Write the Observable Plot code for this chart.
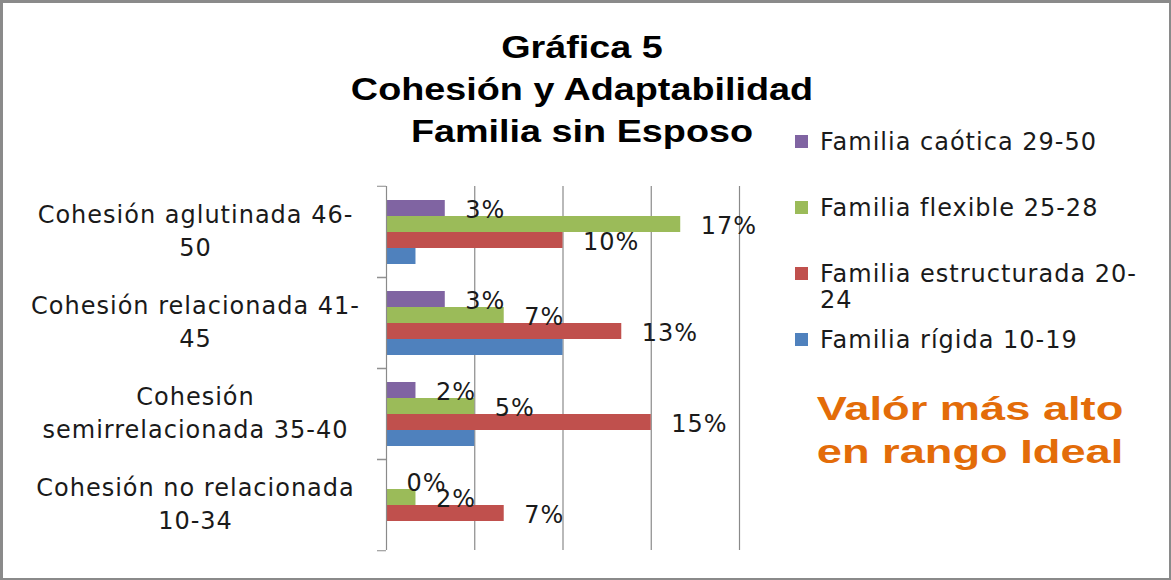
<!DOCTYPE html>
<html><head><meta charset="utf-8">
<script src="https://cdn.jsdelivr.net/npm/d3@7"></script>
<script src="https://cdn.jsdelivr.net/npm/@observablehq/plot@0.6"></script>
<style>
body{margin:0;background:#fff}
#chart{position:relative;width:1171px;height:580px;overflow:hidden;background:#fff}
#chart svg{position:absolute;left:0;top:0}
.frame{position:absolute;left:0;top:0;width:1171px;height:580px;box-sizing:border-box;border:2px solid #8a8a8a;border-top-width:3px;border-left-width:3px;pointer-events:none}
.title{position:absolute;left:282px;width:600px;top:26px;text-align:center;font-family:"Liberation Sans",Arial,sans-serif;font-weight:bold;font-size:32px;line-height:42px;color:#000;transform:scaleX(1.18);transform-origin:300px 0;white-space:nowrap}
.item{position:absolute;left:795px;font-family:"DejaVu Sans",sans-serif;font-size:24px;letter-spacing:1px;line-height:26px;color:#1a1a1a;white-space:pre}
.item .sw{position:absolute;left:0;top:6px;width:13px;height:13px}
.item .tx{position:absolute;left:25px;top:0}
.note{position:absolute;left:720px;width:500px;top:387px;text-align:center;font-family:"Liberation Sans",Arial,sans-serif;font-weight:bold;font-size:33px;line-height:43px;color:#E36C09;transform:scaleX(1.37);transform-origin:250px 0;white-space:nowrap}
</style>
</head><body>
<div id="chart"></div>
<script>
const titleLines = ["Gráfica 5", "Cohesión y Adaptabilidad", "Familia sin Esposo"];
const noteLines = ["Valór más alto", "en rango Ideal"];
const categories = ["Cohesión aglutinada 46-50", "Cohesión relacionada 41-45", "Cohesión semirrelacionada 35-40", "Cohesión no relacionada 10-34"];
const categoryLabels = ["Cohesión aglutinada 46-\n50", "Cohesión relacionada 41-\n45", "Cohesión\nsemirrelacionada 35-40", "Cohesión no relacionada\n10-34"];
const series = ["Familia caótica 29-50", "Familia flexible 25-28", "Familia estructurada 20-24", "Familia rígida 10-19"];
const legendLabels = ["Familia caótica 29-50", "Familia flexible 25-28", "Familia estructurada 20-\n24", "Familia rígida 10-19"];
const colors = ["#8064A2", "#9BBB59", "#C0504D", "#4F81BD"];
// percentages per category (in order of categories)
const caotica = [3.33, 3.33, 1.67, 0];
const flexible = [16.67, 6.67, 5, 1.67];
const estructurada = [10, 13.33, 15, 6.67];
const rigida = [1.67, 10, 5, 0];
const gridTicks = [5, 10, 15, 20];
const labeledSeries = [series[0], series[1], series[2]];

const seriesValues = [caotica, flexible, estructurada, rigida];
const data = [];
categories.forEach((c, i) => series.forEach((s, j) => data.push({category: c, series: s, value: seriesValues[j][i]})));
const labelOf = new Map(categories.map((c, i) => [c, categoryLabels[i]]));

const W = 1171, H = 580, mL = 386, mR = 432, mT = 185, mB = 29;
const half = (H - mT - mB) / categories.length / 2;
const gray = "#8a8a8a";

const plot = Plot.plot({
  width: W, height: H,
  marginLeft: mL, marginRight: mR, marginTop: mT, marginBottom: mB,
  style: {fontFamily: "'DejaVu Sans', sans-serif", fontSize: "24px", letterSpacing: "1px", color: "#1a1a1a", background: "transparent"},
  x: {domain: [0, 20], axis: null},
  y: {domain: series, paddingInner: 0, paddingOuter: 0.75, axis: null},
  fy: {domain: categories, padding: 0, label: null},
  color: {domain: series, range: colors},
  marks: [
    Plot.ruleX(gridTicks, {stroke: gray, strokeWidth: 1.2}),
    Plot.barX(data, {x: "value", y: "series", fy: "category", fill: "series"}),
    Plot.ruleX([0], {stroke: gray, strokeWidth: 1.2}),
    Plot.axisFy({anchor: "left", label: null, tickSize: 9, tickFormat: () => "", dy: -half, stroke: gray}),
    Plot.axisFy([categories[categories.length - 1]], {anchor: "left", label: null, tickSize: 9, tickFormat: () => "", dy: half, stroke: gray}),
    Plot.axisFy({anchor: "left", label: null, tickSize: 0, tickPadding: 0, tickFormat: d => labelOf.get(d), textAnchor: "middle", dx: -191, dy: -3, lineHeight: 1.35, fontSize: 24, fill: "#1a1a1a"}),
    Plot.text(data.filter(d => labeledSeries.includes(d.series)), {
      x: "value", y: "series", fy: "category",
      text: d => Math.round(d.value) + "%",
      textAnchor: "start", dx: 20, dy: 2, fontSize: 24, fill: "#1a1a1a"
    })
  ]
});

const chart = document.getElementById("chart");
chart.appendChild(plot);

const title = document.createElement("div");
title.className = "title";
title.innerHTML = titleLines.join("<br>");
chart.appendChild(title);

const legendTops = [129, 195, 261, 327];
series.forEach((s, i) => {
  const it = document.createElement("div");
  it.className = "item";
  it.style.top = legendTops[i] + "px";
  const sw = document.createElement("div");
  sw.className = "sw"; sw.style.background = colors[i];
  const tx = document.createElement("div");
  tx.className = "tx"; tx.textContent = legendLabels[i];
  it.appendChild(sw); it.appendChild(tx);
  chart.appendChild(it);
});

const note = document.createElement("div");
note.className = "note";
note.innerHTML = noteLines.join("<br>");
chart.appendChild(note);

const frame = document.createElement("div");
frame.className = "frame";
chart.appendChild(frame);
</script>
</body></html>
